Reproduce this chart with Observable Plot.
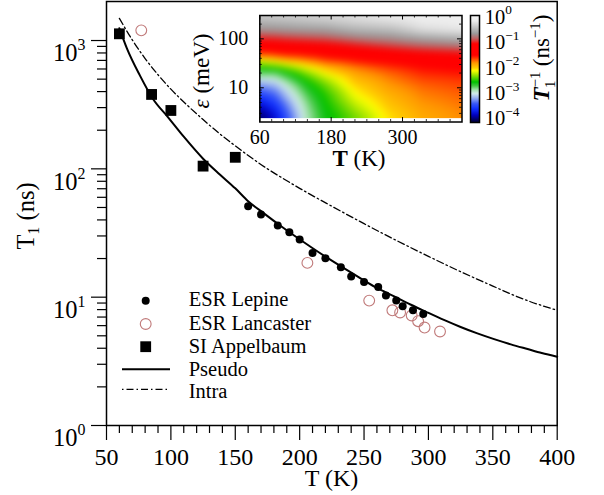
<!DOCTYPE html>
<html><head><meta charset="utf-8">
<script src="https://cdn.jsdelivr.net/npm/d3@7"></script>
<script src="https://cdn.jsdelivr.net/npm/@observablehq/plot@0.6"></script>
<style>
html,body{margin:0;padding:0;background:#fff;}
#wrap{position:relative;width:604px;height:495px;overflow:hidden;background:#fff;}
#wrap svg{position:absolute;}
</style></head><body><div id="wrap"></div>
<script>
const FONT = '"Liberation Serif", "Times New Roman", serif';

// ---- main chart data ----
const lepineT = [160,170,183,192,200,210,220,232,240,250,261,267,275,280,288,296];
const lepineV = [51,44,36.2,32.1,28.1,22.1,20.1,17.1,14.5,13.1,12.0,10.3,9.4,8.5,7.9,7.4];
const lancT = [77,206,254,272,278,287,292,297,309];
const lancV = [1200,18.5,9.4,7.9,7.6,7.2,6.5,5.8,5.4];
const appT = [60,85,100,125,150];
const appV = [1128,380,285,105,123];
const pseudoT = [60,66,76,86,98,110,125,138,150,160,172,184,196,209,221,234,247,260,273,286,299,312,325,338,351,364,377,388,400];
const pseudoV = [1245,861,533,352,251,178,120,90.4,70.5,56.0,45.2,36.7,30.1,24.5,20.4,16.9,14.1,11.8,10.2,8.77,7.62,6.65,5.86,5.22,4.71,4.29,3.94,3.67,3.43];
const intraT = [60,70,80,90,100,112,125,137,150,162,175,187,200,225,250,275,300,325,350,375,400];
const intraV = [1489,1012,724,541,418,318,242,191,151,123,100,84.3,70.5,51.1,37.4,27.7,20.8,15.8,12.2,9.55,7.9];

const xMajor = [50,100,150,200,250,300,350,400];
const xMinor = [60,70,80,90,110,120,130,140,160,170,180,190,210,220,230,240,260,270,280,290,310,320,330,340,360,370,380,390];
const yMajor = [1,10,100,1000];
const yMinor = [2,3,4,5,6,7,8,9,20,30,40,50,60,70,80,90,200,300,400,500,600,700,800,900];

const legendLabels = ["ESR Lepine","ESR Lancaster","SI Appelbaum","Pseudo","Intra"];

// ---- inset heat map data: log10 of T1^-1 (ns^-1) ----
const tGrid = [60,85,110,140,170,221,277,333,400];
const epsGrid = [2.4,3.4,4.8,6.8,9.6,13.6,19.2,27,38,54,77,108,152,215,300];
const rateLog = [
  [-4.05,-3.92,-3.75,-3.55,-3.35,-3.1,-2.78,-2.49,-2.05,-1.49,-1.2,-0.94,-0.68,-0.52,-0.35],
  [-3.8,-3.68,-3.55,-3.4,-3.25,-3.05,-2.78,-2.42,-1.95,-1.45,-1.17,-0.92,-0.67,-0.5,-0.34],
  [-3.38,-3.3,-3.2,-3.08,-2.95,-2.8,-2.58,-2.27,-1.82,-1.4,-1.14,-0.88,-0.65,-0.48,-0.32],
  [-2.88,-2.85,-2.8,-2.73,-2.64,-2.52,-2.34,-2.08,-1.72,-1.37,-1.11,-0.85,-0.63,-0.45,-0.29],
  [-2.6,-2.57,-2.54,-2.5,-2.42,-2.3,-2.12,-1.9,-1.6,-1.34,-1.08,-0.82,-0.62,-0.42,-0.26],
  [-2.36,-2.28,-2.2,-2.12,-2.04,-1.95,-1.85,-1.73,-1.49,-1.22,-0.97,-0.72,-0.5,-0.33,-0.2],
  [-2.05,-2.0,-1.95,-1.9,-1.84,-1.78,-1.71,-1.6,-1.42,-1.12,-0.87,-0.66,-0.45,-0.27,-0.12],
  [-1.87,-1.84,-1.8,-1.76,-1.72,-1.66,-1.59,-1.5,-1.3,-1.04,-0.78,-0.55,-0.26,-0.15,-0.09],
  [-1.78,-1.76,-1.73,-1.7,-1.66,-1.62,-1.55,-1.44,-1.24,-0.98,-0.71,-0.47,-0.18,-0.1,-0.06]
];
const insetXLabels = [60,180,300];
const insetXMinor = [80,100,120,140,160,200,220,240,260,280,320,340,360,380];
const insetYLabels = [10,100];
const insetYMinor = [3,4,5,6,7,8,9,20,30,40,50,60,70,80,90,200,300];
const cbarTicks = [1e-4,1e-3,1e-2,1e-1,1];

// colour map (log10 rate -> colour)
const cStops  = [-4.1,-3.85,-3.6,-3.4,-3.2,-3.0,-2.85,-2.7,-2.55,-2.3,-2.1,-2.0,-1.8,-1.6,-1.5,-1.05,-0.85,-0.65,-0.4,-0.15,0.1];
const cColors = ["#000040","#0000c0","#1030ff","#3858f8","#90a8f0","#d4ecec","#a0e0a8","#40c840","#00c000","#90e000","#ffff00","#ffd000","#ff9800","#ff3000","#ff0000","#ff0000","#c06060","#999999","#c4c4c4","#ececec","#f4f4f4"];

// ---- build tables ----
const lepine = lepineT.map((T,i)=>({T, v: lepineV[i]}));
const lanc = lancT.map((T,i)=>({T, v: lancV[i]}));
const app = appT.map((T,i)=>({T, v: appV[i]}));
const pseudo = pseudoT.map((T,i)=>({T, v: pseudoV[i]}));
const intra = intraT.map((T,i)=>({T, v: intraV[i]}));
const heat = [];
tGrid.forEach((T,i)=>epsGrid.forEach((e,j)=>heat.push({T, e, v: rateLog[i][j]})));

const wrap = document.getElementById("wrap");
const pow10fmt = d => "10^" + String(Math.round(Math.log10(d))).replace("-", "\u2212");

// ---- main plot ----
const main = Plot.plot({
  width: 604, height: 495,
  marginLeft: 106, marginRight: 47.3, marginTop: 1, marginBottom: 70,
  x: {domain: [50, 400]},
  y: {type: "log", domain: [1, 2014]},
  style: {fontFamily: FONT, color: "#000", background: "transparent"},
  marks: [
    Plot.axisX({ticks: xMinor, tickSize: 8, tickFormat: () => "", label: null, strokeWidth: 1.2}),
    Plot.axisX({ticks: xMajor, tickSize: 15, tickPadding: 7, fontSize: 24, label: null, strokeWidth: 1.2}),
    Plot.axisY({ticks: yMinor, tickSize: 9, tickFormat: () => "", label: null, strokeWidth: 1.2}),
    Plot.axisY({ticks: yMajor, tickSize: 15, tickPadding: 6, fontSize: 24.5, label: null, strokeWidth: 1.2, tickFormat: pow10fmt}),
    Plot.line(pseudo, {x: "T", y: "v", stroke: "#000", strokeWidth: 2, curve: "monotone-x"}),
    Plot.line(intra, {x: "T", y: "v", stroke: "#000", strokeWidth: 1.3, strokeDasharray: "7,3,1.5,3", curve: "monotone-x"}),
    Plot.dot(lanc, {x: "T", y: "v", r: 5.4, stroke: "#c07a7a", strokeWidth: 1.1, fill: "none"}),
    Plot.dot(lepine, {x: "T", y: "v", r: 4, fill: "#000", stroke: "none"}),
    Plot.dot(app, {x: "T", y: "v", r: 6.1, symbol: "square", fill: "#000", stroke: "none"}),
    Plot.frame({stroke: "#000", strokeWidth: 1.5})
  ]
});
main.style.left = "0px"; main.style.top = "0px";
wrap.appendChild(main);

// ---- inset heat map ----
const IW = 266, IH = 150, IML = 59.3, IMR = 4.5, IMT = 15, IMB = 28.5;
const FW = IW - IML - IMR, FH = IH - IMT - IMB;
const colorOpts = {type: "linear", domain: cStops, range: cColors, interpolate: "rgb", clamp: true};
const inset = Plot.plot({
  width: IW, height: IH, marginLeft: IML, marginRight: IMR, marginTop: IMT, marginBottom: IMB,
  x: {domain: [60, 400]},
  y: {type: "log", domain: [2, 300]},
  color: colorOpts,
  style: {fontFamily: FONT, color: "#000", background: "transparent"},
  marks: [
    Plot.raster(heat, {x: "T", y: "e", fill: "v", interpolate: "barycentric", blur: 3, x1: 60, x2: 400, y1: 2.4, y2: 300}),
    Plot.tickX(insetXMinor, {x: d => d, insetTop: FH - 2.5, strokeWidth: 0.8}),
    Plot.tickX(insetXMinor, {x: d => d, insetBottom: FH - 2.5, strokeWidth: 0.8}),
    Plot.tickX(insetXLabels, {x: d => d, insetTop: FH - 4.5, strokeWidth: 1}),
    Plot.tickX(insetXLabels, {x: d => d, insetBottom: FH - 4.5, strokeWidth: 1}),
    Plot.tickY(insetYMinor, {y: d => d, insetRight: FW - 2.5, strokeWidth: 0.8}),
    Plot.tickY(insetYMinor, {y: d => d, insetLeft: FW - 2.5, strokeWidth: 0.8}),
    Plot.tickY(insetYLabels, {y: d => d, insetRight: FW - 4.5, strokeWidth: 1}),
    Plot.tickY(insetYLabels, {y: d => d, insetLeft: FW - 4.5, strokeWidth: 1}),
    Plot.axisX({ticks: insetXLabels, tickSize: 0, tickPadding: 7.5, fontSize: 20, label: null}),
    Plot.axisY({ticks: insetYLabels, tickSize: 0, tickPadding: 11.6, fontSize: 20, label: null, tickFormat: d => String(d)}),
    Plot.frame({stroke: "#000", strokeWidth: 1.5})
  ]
});
inset.style.left = "200px"; inset.style.top = "0px";
wrap.appendChild(inset);

// ---- colour bar ----
const cbar = Plot.plot({
  width: 85, height: 140, marginLeft: 5, marginRight: 71, marginTop: 15, marginBottom: 18,
  x: {domain: [0, 1], axis: null},
  y: {type: "log", domain: [Math.pow(10, -4.14), Math.pow(10, 0.06)]},
  color: colorOpts,
  style: {fontFamily: FONT, color: "#000", background: "transparent"},
  marks: [
    Plot.raster({x1: 0, x2: 1, y1: Math.pow(10, -4.14), y2: Math.pow(10, 0.06), fill: (x, y) => Math.log10(y)}),
    Plot.axisY({anchor: "right", ticks: cbarTicks, tickSize: 0, tickPadding: 5.3, fontSize: 20.5, label: null, tickFormat: pow10fmt}),
    Plot.frame({stroke: "#000", strokeWidth: 1.5})
  ]
});
cbar.style.left = "465px"; cbar.style.top = "0px";
wrap.appendChild(cbar);

// ---- superscripts for 10^k labels ----
const NS = "http://www.w3.org/2000/svg";
wrap.querySelectorAll("text").forEach(t => {
  const m = t.textContent.match(/^10\^(.+)$/);
  if (!m) return;
  const fs = parseFloat(getComputedStyle(t).fontSize) || 20;
  t.textContent = "10";
  const ts = document.createElementNS(NS, "tspan");
  ts.setAttribute("font-size", (fs * 0.65).toFixed(1));
  ts.setAttribute("dy", (-fs * 0.45).toFixed(1));
  ts.textContent = m[1];
  t.appendChild(ts);
});
// main y labels sit a little lower
main.querySelectorAll("text").forEach(t => { if (t.textContent.startsWith("10") && t.querySelector("tspan")) t.setAttribute("dy", "0.53em"); });

// ---- overlay: axis titles and legend ----
const ov = d3.select(wrap).append("svg").attr("width", 604).attr("height", 495)
  .style("left", "0px").style("top", "0px").style("font-family", FONT).attr("fill", "#000");
function addText(attrs, parts) {
  const t = ov.append("text");
  Object.entries(attrs).forEach(([k, v]) => t.attr(k, v));
  parts.forEach(p => {
    const s = t.append("tspan").text(p.t);
    Object.entries(p).forEach(([k, v]) => { if (k !== "t") s.attr(k, v); });
  });
  return t;
}
// main x title
addText({x: 331.5, y: 486, "text-anchor": "middle", "font-size": 24}, [{t: "T (K)"}]);
// main y title
addText({transform: "translate(34,216) rotate(-90)", "text-anchor": "middle", "font-size": 24.5},
  [{t: "T"}, {t: "1", "font-size": 16, dy: 5}, {t: " (ns)", dy: -5}]);
// inset x title
addText({x: 359, y: 166, "text-anchor": "middle", "font-size": 23},
  [{t: "T", "font-weight": "bold"}, {t: " (K)"}]);
// inset y title
addText({transform: "translate(209,71) rotate(-90)", "text-anchor": "middle", "font-size": 23},
  [{t: "\u03b5", "font-style": "italic"}, {t: " (meV)"}]);
// colour bar title
addText({transform: "translate(549,58) rotate(-90)", "text-anchor": "middle", "font-size": 23},
  [{t: "T", "font-style": "italic", "font-weight": "bold"},
   {t: "\u22121", "font-size": 15, dy: -9},
   {t: "1", "font-size": 15, dx: -16, dy: 15},
   {t: " (ns", dx: 8.5, dy: -6},
   {t: "\u22121", "font-size": 15, dy: -9},
   {t: ")", dy: 9}]);

// legend
const legBase = [306, 329.5, 352.5, 375.5, 397.5];
const legSym = [300.7, 324, 346.7, 369.3, 389.3];
legendLabels.forEach((lab, i) => addText({x: 188.7, y: legBase[i], "font-size": 20.5}, [{t: lab}]));
ov.append("circle").attr("cx", 145.7).attr("cy", legSym[0]).attr("r", 4).attr("fill", "#000");
ov.append("circle").attr("cx", 145.7).attr("cy", legSym[1]).attr("r", 5.4).attr("fill", "none").attr("stroke", "#c07a7a").attr("stroke-width", 1.1);
ov.append("rect").attr("x", 145.7 - 5.4).attr("y", legSym[2] - 5.4).attr("width", 10.8).attr("height", 10.8).attr("fill", "#000");
ov.append("line").attr("x1", 122).attr("x2", 170).attr("y1", legSym[3]).attr("y2", legSym[3]).attr("stroke", "#000").attr("stroke-width", 2);
ov.append("line").attr("x1", 122).attr("x2", 170).attr("y1", legSym[4]).attr("y2", legSym[4]).attr("stroke", "#000").attr("stroke-width", 1.3).attr("stroke-dasharray", "1.5,3,7,3");
</script></body></html>
